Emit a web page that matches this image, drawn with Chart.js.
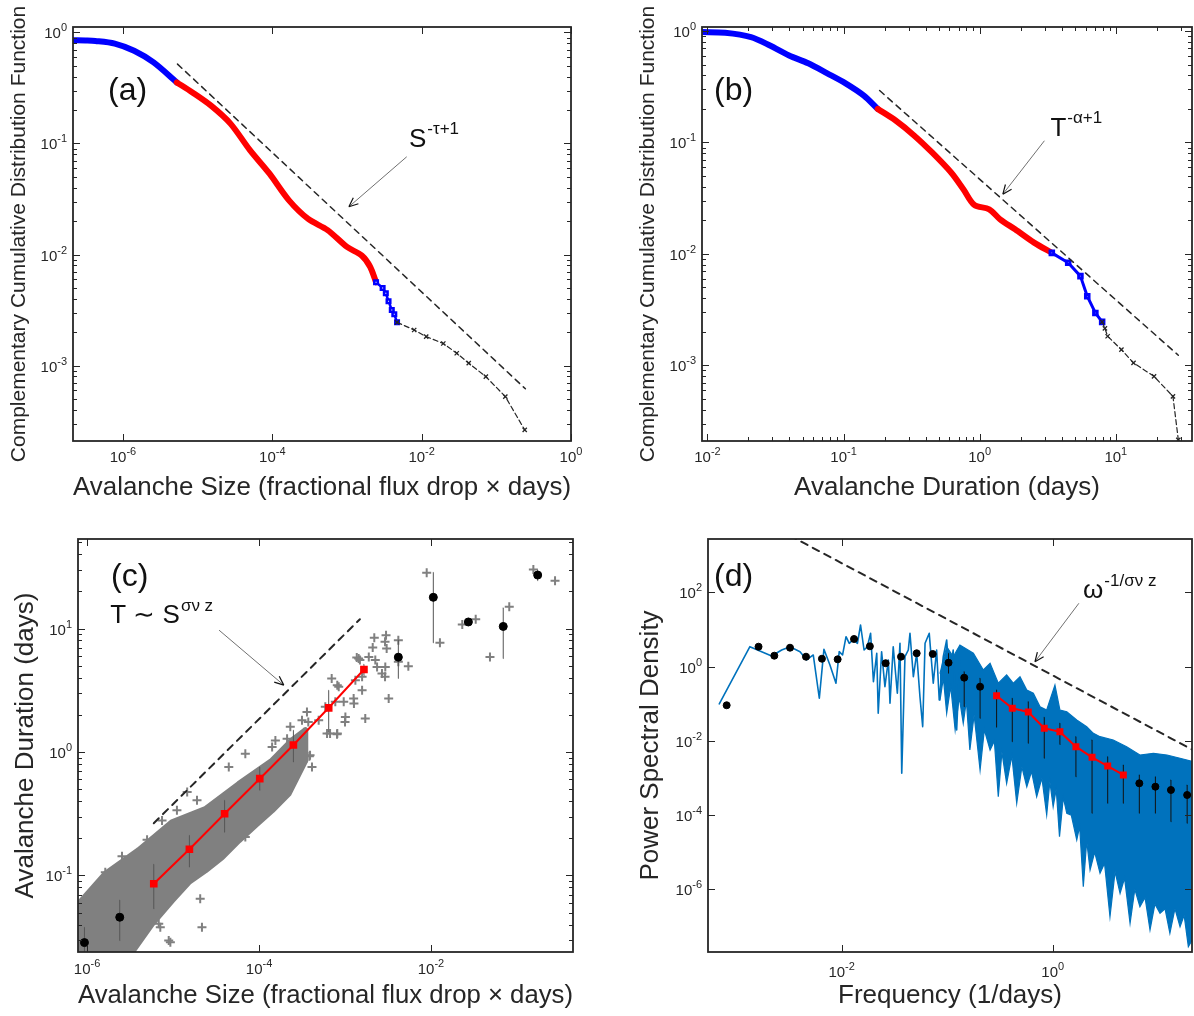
<!DOCTYPE html>
<html>
<head>
<meta charset="utf-8">
<script src="https://cdn.jsdelivr.net/npm/chart.js@4.4.1/dist/chart.umd.min.js"></script>
<style>
  html, body { margin: 0; padding: 0; background: #fff; }
  body { width: 1194px; height: 1016px; position: relative; overflow: hidden; }
  canvas { position: absolute; }
</style>
</head>
<body>
<canvas id="chartA" style="left:3px;top:0px;width:594px;height:507px" width="594" height="507"></canvas>
<canvas id="chartB" style="left:632px;top:0px;width:562px;height:507px" width="562" height="507"></canvas>
<canvas id="chartC" style="left:6px;top:510px;width:584px;height:505px" width="584" height="505"></canvas>
<canvas id="chartD" style="left:631px;top:510px;width:563px;height:505px" width="563" height="505"></canvas>
<script>
const FONT = '"Liberation Sans", Arial, Helvetica, sans-serif';
const INK = '#262626';

// (a) CCDF of avalanche size
const aBlue1X = [2.14e-7, 3.16e-7, 4.27e-7, 7.76e-7, 1.41e-6, 2.57e-6, 5.25e-6];
const aBlue1Y = [0.851, 0.847, 0.839, 0.794, 0.684, 0.537, 0.355];
const aRedX = [5.25e-6, 8.51e-6, 1.51e-5, 2.75e-5, 5.01e-5, 9.12e-5, 1.66e-4, 3.02e-4, 5.50e-4, 1.0e-3, 1.58e-3, 2.04e-3, 2.45e-3];
const aRedY = [0.355, 0.288, 0.219, 0.151, 0.0871, 0.0537, 0.0309, 0.0209, 0.0166, 0.0117, 0.00977, 0.00776, 0.00562];
const aBlue2X = [2.45e-3, 3.0e-3, 3.31e-3, 3.6e-3, 3.98e-3, 4.3e-3, 4.68e-3];
const aBlue2Y = [0.00562, 0.0050, 0.00447, 0.0038, 0.00316, 0.0029, 0.00245];
const aTailX = [4.68e-3, 7.94e-3, 0.0115, 0.0195, 0.0295, 0.0427, 0.0724, 0.132, 0.240];
const aTailY = [2.45e-3, 2.09e-3, 1.82e-3, 1.58e-3, 1.29e-3, 1.05e-3, 7.94e-4, 5.25e-4, 2.63e-4];
const aFitX = [5.37e-6, 0.245];
const aFitY = [0.519, 6.17e-4];
const aXTicks = [1e-6, 1e-4, 1e-2, 1];
const aYTicks = [1, 0.1, 0.01, 0.001];

// (b) CCDF of avalanche duration
const bBlue1X = [9.12e-3, 0.0135, 0.0209, 0.0288, 0.0398, 0.0550, 0.0759, 0.1035, 0.141, 0.178];
const bBlue1Y = [0.977, 0.966, 0.883, 0.741, 0.603, 0.513, 0.417, 0.339, 0.263, 0.200];
const bRedX = [0.178, 0.240, 0.331, 0.447, 0.617, 0.759, 0.912, 1.175, 1.413, 1.82, 2.51, 3.39];
const bRedY = [0.200, 0.158, 0.115, 0.0813, 0.0537, 0.0380, 0.0275, 0.0251, 0.0204, 0.0166, 0.0126, 0.0102];
const bBlue2X = [3.39, 4.47, 5.50, 6.17, 7.08, 7.94];
const bBlue2Y = [0.0102, 0.00832, 0.00631, 0.00417, 0.00295, 0.00245];
const bTailX = [7.94, 8.32, 8.71, 11.0, 13.5, 19.1, 26.3, 28.8];
const bTailY = [2.45e-3, 2.14e-3, 1.82e-3, 1.38e-3, 1.05e-3, 7.94e-4, 5.25e-4, 2.14e-4];
const bFitX = [0.184, 28.8];
const bFitY = [0.292, 1.23e-3];
const bXTicks = [0.01, 0.1, 1, 10];
const bYTicks = [1, 0.1, 0.01, 0.001];

// (c) duration vs size
const cBandUpX = [7.85e-7, 1.63e-6, 3.98e-6, 9.73e-6, 2.38e-5, 5.81e-5, 1.42e-4, 2.42e-4, 3.45e-4];
const cBandUpY = [0.058, 0.103, 0.160, 0.270, 0.345, 0.55, 0.85, 1.24, 1.50];
const cBandLoX = [7.85e-7, 3.33e-6, 5.70e-6, 9.73e-6, 1.52e-5, 2.38e-5, 3.72e-5, 5.81e-5, 9.06e-5, 1.42e-4, 2.21e-4, 3.45e-4];
const cBandLoY = [0.024, 0.024, 0.0406, 0.0627, 0.0883, 0.110, 0.141, 0.192, 0.255, 0.337, 0.460, 0.85];
const cCrossX = [2.55e-6, 4.99e-6, 1.46e-5, 1.90e-5, 1.11e-5, 4.76e-5, 2.07e-5, 2.17e-5, 8.91e-6, 7.11e-6,
  4.45e-5, 6.93e-5, 1.55e-4, 2.31e-4, 2.90e-4, 3.85e-4, 3.16e-4, 3.61e-4, 4.94e-4, 6.18e-4,
  8.07e-4, 7.71e-4, 8.45e-4, 9.66e-4, 1.32e-3, 1.58e-3, 1.72e-3, 1.44e-3, 1.89e-3, 2.36e-3,
  2.94e-3, 3.22e-3, 2.69e-3, 4.13e-4, 5.21e-6, 1.63e-6, 7.45e-6, 1.16e-5, 1.42e-4, 2.12e-4,
  5.90e-4, 1.01e-3, 1.26e-3, 1.58e-3, 2.25e-3, 2.19e-3, 3.00e-3, 2.92e-3, 3.05e-3, 2.10e-3,
  1.37e-3, 2.92e-3, 4.17e-3, 4.17e-3, 5.45e-3, 8.91e-3, 0.0127, 0.0231, 0.0331, 0.0485,
  0.0813, 0.155, 0.277, 7.0e-4, 8.13e-4, 1.27e-3, 1.0e-3, 8.13e-4, 6.70e-4, 3.74e-4,
  3.92e-4, 1.49e-3, 7.11e-6, 6.82e-6, 6.93e-5, 9.31e-6];
const cCrossY = [0.143, 0.195, 0.474, 0.406, 0.337, 0.192, 0.0647, 0.0381, 0.0297, 0.0381,
  0.755, 0.970, 1.24, 1.60, 0.970, 0.923, 1.81, 2.11, 1.81, 1.41,
  1.39, 2.55, 3.37, 2.55, 3.81, 3.16, 1.87, 5.72, 5.89, 4.89,
  4.89, 2.71, 4.32, 0.755, 0.155, 0.106, 0.279, 0.247, 1.10, 1.28,
  2.32, 1.92, 2.71, 4.06, 5.55, 8.41, 8.83, 7.80, 6.90, 7.03,
  5.83, 4.06, 8.05, 5.37, 4.95, 28.3, 7.66, 10.8, 11.9, 5.89,
  15.0, 30.1, 24.4, 3.94, 3.48, 2.47, 1.75, 1.41, 1.41, 1.75,
  0.94, 5.55, 0.205, 0.0406, 0.205, 0.0288];
const cRedX = [5.97e-6, 1.55e-5, 3.98e-5, 1.02e-4, 2.51e-4, 6.46e-4, 1.66e-3];
const cRedY = [0.0857, 0.163, 0.316, 0.608, 1.14, 2.28, 4.66];
const cDotX = [9.33e-7, 2.40e-6, 4.17e-3, 0.01064, 0.0272, 0.0692, 0.174];
const cDotY = [0.0286, 0.0459, 5.86, 17.9, 11.3, 10.4, 27.1];
const cErrX = [9.33e-7, 2.40e-6, 5.97e-6, 1.55e-5, 3.98e-5, 1.02e-4, 2.51e-4, 6.46e-4, 1.66e-3, 4.17e-3, 0.01064, 0.0272, 0.0692, 0.174];
const cErrLo = [0.024, 0.0297, 0.0537, 0.117, 0.224, 0.490, 0.830, 1.45, 4.17, 3.94, 7.66, 10.9, 5.71, 24.4];
const cErrHi = [0.038, 0.0631, 0.123, 0.211, 0.406, 0.755, 1.50, 3.16, 5.13, 8.05, 28.5, 12.1, 14.7, 29.8];
const cFitX = [5.97e-6, 1.49e-3];
const cFitY = [0.265, 11.9];
const cXTicks = [1e-6, 1e-4, 1e-2];
const cYTicks = [0.1, 1, 10];

// (d) power spectrum
const dLineX = [6.92e-4, 1.35e-3, 2.17e-3, 2.70e-3, 3.24e-3, 4.03e-3, 4.66e-3, 5.38e-3, 6.14e-3, 6.79e-3,
  7.74e-3, 8.83e-3, 9.48e-3, 0.0102, 0.0110, 0.0118, 0.0129, 0.0141, 0.0151, 0.0163,
  0.0175, 0.0188, 0.0200, 0.0215, 0.0222, 0.0239, 0.0257, 0.0277, 0.0287, 0.0308,
  0.0337, 0.0357, 0.0371, 0.0398, 0.0428, 0.0444, 0.0478, 0.0514, 0.0552, 0.0586,
  0.0617, 0.0676, 0.0738, 0.0794, 0.0841, 0.0918, 0.0989, 0.105, 0.114, 0.123, 0.132];
const dLineY = [0.0989, 3.46, 1.94, 2.82, 3.46, 2.54, 1.52, 2.07, 0.141, 2.94,
  1.11, 0.357, 2.54, 2.07, 6.44, 4.27, 5.47, 4.27, 13.3, 2.82,
  3.46, 7.94, 0.394, 2.30, 0.0555, 2.54, 0.289, 1.52, 0.103, 3.46,
  0.192, 4.27, 1.34e-3, 1.86, 2.82, 7.94, 0.537, 2.30, 0.155, 0.0242,
  4.27, 7.94, 0.357, 2.82, 0.126, 1.86, 5.25, 0.537, 2.82, 0.0197, 1.86];
const dBandUpX = [0.0855, 0.0989, 0.114, 0.132, 0.177, 0.220, 0.255, 0.305, 0.366, 0.424, 0.490, 0.568, 0.655, 0.759, 0.877,
  1.05, 1.17, 1.36, 1.69, 2.10, 2.43, 2.81, 3.75, 5.02, 6.71, 9.00, 12.1, 16.1, 21.5];
const dBandUpY = [0.664, 3.46, 1.86, 3.85, 2.30, 0.815, 1.24, 0.357, 0.597, 0.357, 0.537, 0.236, 0.192, 0.0836, 0.0681,
  0.321, 0.0681, 0.0612, 0.0366, 0.0242, 0.0160, 0.0130, 0.0106, 6.98e-3, 4.17e-3, 4.63e-3, 4.17e-3, 3.40e-3, 2.75e-3];
const dBandLoX = [0.0855, 0.092, 0.0989, 0.108, 0.119, 0.130, 0.142, 0.152, 0.164, 0.180,
  0.205, 0.225, 0.255, 0.280, 0.305, 0.330, 0.366, 0.410, 0.456, 0.510,
  0.568, 0.630, 0.705, 0.790, 0.877, 0.940, 1.01, 1.08, 1.16, 1.26,
  1.36, 1.50, 1.69, 1.80, 1.95, 2.10, 2.26, 2.50, 2.81, 3.10,
  3.49, 3.90, 4.35, 4.80, 5.41, 6.00, 6.71, 7.50, 8.36, 9.30,
  10.4, 11.6, 12.9, 14.4, 16.1, 17.6, 19.3, 21.8];
const dBandLoY = [0.126, 0.5, 0.0555, 0.3, 0.0197, 0.15, 0.0298, 0.12, 5.69e-3, 0.05,
  1.64e-3, 0.02, 5.69e-3, 0.01, 3.13e-4, 5e-3, 7.19e-4, 4e-3, 2.08e-4, 2e-3,
  5.83e-4, 1.5e-3, 3.13e-4, 1e-3, 1.01e-4, 8e-4, 1.68e-4, 5e-4, 2.62e-5, 3e-4,
  1.12e-4, 1e-4, 2.13e-5, 5e-5, 1.17e-6, 2e-5, 3.31e-6, 1e-5, 2.70e-6, 5e-6,
  1.82e-7, 3e-6, 7.80e-7, 2e-6, 1.21e-7, 1e-6, 3.40e-7, 6e-7, 8.0e-8, 4e-7,
  2.25e-7, 3e-7, 6.52e-8, 3e-7, 9.82e-8, 2e-7, 2.84e-8, 5.27e-8];
const dDotX = [8.13e-4, 1.63e-3, 2.30e-3, 3.24e-3, 4.59e-3, 6.50e-3, 9.16e-3, 0.0131, 0.0185, 0.0261,
  0.0365, 0.0514, 0.0729, 0.103, 0.145, 0.205, 6.62, 9.40, 13.2, 18.8];
const dDotY = [0.0912, 3.46, 1.98, 3.25, 1.86, 1.64, 1.58, 5.58, 3.55, 1.24,
  1.86, 2.30, 2.20, 1.28, 0.506, 0.289, 7.19e-4, 5.83e-4, 4.75e-4, 3.48e-4];
const dRedX = [0.294, 0.414, 0.587, 0.832, 1.17, 1.66, 2.36, 3.32, 4.67];
const dRedY = [0.165, 0.0757, 0.0601, 0.0219, 0.0177, 6.98e-3, 3.61e-3, 2.10e-3, 1.21e-3];
const dErrX = [0.103, 0.145, 0.205, 0.294, 0.414, 0.587, 0.832, 1.17, 1.66, 2.36, 3.32, 4.67, 6.62, 9.40, 13.2, 18.8];
const dErrLo = [0.664, 0.0836, 0.0406, 0.0233, 9.5e-3, 8.61e-3, 3.40e-3, 8.0e-3, 1.08e-3, 1.12e-4, 2.08e-4, 2.08e-4, 1.12e-4, 1.12e-4, 6.64e-5, 6.01e-5];
const dErrHi = [2.30, 0.733, 0.486, 0.236, 0.141, 0.114, 0.0433, 0.0300, 0.0130, 0.0106, 3.75e-3, 2.24e-3, 1.21e-3, 1.08e-3, 8.83e-4, 6.47e-4];
const dFitX = [2.51e-3, 21.8];
const dFitY = [5000, 5.5e-3];
const dXTicks = [1e-2, 1];
const dYTicks = [1e2, 1, 1e-2, 1e-4, 1e-6];

const pts = (xs, ys) => xs.map((x, i) => ({ x, y: ys[i] }));
const bars = (xs, lo, hi) => xs.flatMap((x, i) => [{ x, y: lo[i] }, { x, y: hi[i] }, { x, y: null }]);
const polygon = (ux, uy, lx, ly) => pts(ux, uy).concat(pts(lx, ly).reverse());

function curve(data, color, width, more) {
  return Object.assign({
    data, borderColor: color, backgroundColor: color, borderWidth: width,
    pointRadius: 0, fill: false, tension: 0, spanGaps: false,
    borderJoinStyle: 'round', borderCapStyle: 'round'
  }, more || {});
}

// drawing details of each panel, looked up by canvas id
const DECOR = {
  chartA: {
    xMinor: false, yMinor: true, xTicks: aXTicks, yTicks: aYTicks, xLabelGap: 21, letter: '(a)', letterAt: [35, 73],
    note: { x: 6.76e-3, y: 0.0933, text: 'S', sup: '-\u03C4+1', size: 26, supSize: 17, rise: 13,
      from: [6.31e-3, 0.0759], to: [1.06e-3, 0.0269] }
  },
  chartB: {
    xMinor: true, yMinor: true, xTicks: bXTicks, yTicks: bYTicks, xLabelGap: 21, letter: '(b)', letterAt: [12, 73],
    note: { x: 3.31, y: 0.115, text: 'T', sup: '-\u03B1+1', size: 26, supSize: 17, rise: 13,
      from: [2.99, 0.1035], to: [1.48, 0.0343] }
  },
  chartC: {
    xMinor: false, yMinor: true, xTicks: cXTicks, yTicks: cYTicks, xLabelGap: 22, letter: '(c)', letterAt: [33, 47],
    note: { x: 1.86e-6, y: 11.07, text: 'T \u223C S', sup: '\u03C3\u03BD z', size: 26, supSize: 17, rise: 12,
      from: [3.43e-5, 9.70], to: [1.94e-4, 3.48] }
  },
  chartD: {
    xMinor: false, yMinor: false, xTicks: dXTicks, yTicks: dYTicks, xLabelGap: 25, letter: '(d)', letterAt: [6, 47],
    note: { x: 1.94, y: 70.8, text: '\u03C9', sup: '-1/\u03C3\u03BD z', size: 26, supSize: 17, rise: 12,
      from: [1.77, 51.2], to: [0.679, 1.36] }
  }
};

// decade ticks with optional 2..9 minor ticks inside [min, max]
function logTicks(min, max) {
  const out = [];
  for (let d = Math.floor(Math.log10(min)); d <= Math.ceil(Math.log10(max)); d++) {
    for (let k = 1; k <= 9; k++) {
      const v = k * Math.pow(10, d);
      if (v >= min * 0.999 && v <= max * 1.001) out.push({ v, major: k === 1 });
    }
  }
  return out;
}

function drawPow(ctx, v, x, y, align) {
  const sup = String(Math.round(Math.log10(v)));
  ctx.font = `15px ${FONT}`;
  const wb = ctx.measureText('10').width;
  ctx.font = `11px ${FONT}`;
  const ws = ctx.measureText(sup).width;
  const left = align === 'right' ? x - wb - ws : x - (wb + ws) / 2;
  ctx.font = `15px ${FONT}`;
  ctx.fillText('10', left, y);
  ctx.font = `11px ${FONT}`;
  ctx.fillText(sup, left + wb, y - 7);
}

function drawNote(ctx, chart, n) {
  const { x, y } = chart.scales;
  const px = x.getPixelForValue(n.x), py = y.getPixelForValue(n.y);
  ctx.fillStyle = '#111';
  ctx.font = `${n.size}px ${FONT}`;
  ctx.fillText(n.text, px, py);
  const w = ctx.measureText(n.text).width;
  ctx.font = `${n.supSize}px ${FONT}`;
  ctx.fillText(n.sup, px + w + 1, py - n.rise);

  const x1 = x.getPixelForValue(n.from[0]), y1 = y.getPixelForValue(n.from[1]);
  const x2 = x.getPixelForValue(n.to[0]), y2 = y.getPixelForValue(n.to[1]);
  ctx.strokeStyle = '#707070';
  ctx.lineWidth = 1;
  ctx.beginPath();
  ctx.moveTo(x1, y1);
  ctx.lineTo(x2, y2);
  ctx.stroke();
  const ang = Math.atan2(y2 - y1, x2 - x1);
  ctx.strokeStyle = '#111';
  ctx.lineWidth = 1.2;
  ctx.beginPath();
  for (const s of [-1, 1]) {
    ctx.moveTo(x2, y2);
    ctx.lineTo(x2 - 10 * Math.cos(ang + s * 0.4), y2 - 10 * Math.sin(ang + s * 0.4));
  }
  ctx.stroke();
}

const framePlugin = {
  id: 'frame',
  afterDatasetsDraw(chart) {
    const o = DECOR[chart.canvas.id];
    const { ctx, chartArea: a, scales: { x, y } } = chart;
    ctx.save();
    ctx.strokeStyle = INK;
    ctx.lineWidth = 1;
    ctx.beginPath();
    const xt = o.xMinor ? logTicks(x.min, x.max) : o.xTicks.map(v => ({ v, major: true }));
    const yt = o.yMinor ? logTicks(y.min, y.max) : o.yTicks.map(v => ({ v, major: true }));
    xt.forEach(t => {
      const p = Math.round(x.getPixelForValue(t.v)) + 0.5, len = t.major ? 7 : 4;
      ctx.moveTo(p, a.bottom); ctx.lineTo(p, a.bottom - len);
      ctx.moveTo(p, a.top); ctx.lineTo(p, a.top + len);
    });
    yt.forEach(t => {
      const p = Math.round(y.getPixelForValue(t.v)) + 0.5, len = t.major ? 7 : 4;
      ctx.moveTo(a.left, p); ctx.lineTo(a.left + len, p);
      ctx.moveTo(a.right, p); ctx.lineTo(a.right - len, p);
    });
    ctx.stroke();
    ctx.lineWidth = 1.8;
    ctx.strokeRect(a.left, a.top, a.right - a.left, a.bottom - a.top);

    ctx.fillStyle = INK;
    ctx.textBaseline = 'alphabetic';
    ctx.textAlign = 'left';
    o.xTicks.forEach(v => drawPow(ctx, v, x.getPixelForValue(v), a.bottom + o.xLabelGap, 'center'));
    o.yTicks.forEach(v => drawPow(ctx, v, a.left - 6, y.getPixelForValue(v) + 6, 'right'));

    ctx.fillStyle = '#111';
    ctx.font = `32px ${FONT}`;
    ctx.fillText(o.letter, a.left + o.letterAt[0], a.top + o.letterAt[1]);
    drawNote(ctx, chart, o.note);
    ctx.restore();
  }
};

function makeChart(id, p) {
  return new Chart(document.getElementById(id), {
    type: 'line',
    data: { datasets: p.datasets },
    options: {
      responsive: false,
      animation: false,
      devicePixelRatio: 1,
      layout: { autoPadding: false, padding: { top: p.padTop, right: p.padRight, left: 0, bottom: 0 } },
      plugins: { legend: { display: false }, tooltip: { enabled: false } },
      scales: {
        x: {
          type: 'logarithmic', min: p.xRange[0], max: p.xRange[1],
          ticks: { display: false }, grid: { display: false }, border: { display: false },
          title: { display: true, text: p.xTitle, color: INK, font: { family: FONT, size: 26 }, padding: { top: 0, bottom: 4 } },
          afterFit: s => { s.height = p.xAxisH; }
        },
        y: {
          type: 'logarithmic', min: p.yRange[0], max: p.yRange[1],
          ticks: { display: false }, grid: { display: false }, border: { display: false },
          title: { display: true, text: p.yTitle, color: INK, font: { family: FONT, size: p.yTitleSize }, padding: { top: 4, bottom: 0 } },
          afterFit: s => { s.width = p.yAxisW; }
        }
      }
    },
    plugins: [framePlugin]
  });
}

const BLUE = '#0000ff', RED = '#ff0000', GREY = '#808080', MBLUE = '#0072bd';

makeChart('chartA', {
  xRange: [2.14e-7, 1], yRange: [2.09e-4, 1.12],
  padTop: 27, padRight: 26, yAxisW: 70, xAxisH: 66,
  xTitle: 'Avalanche Size (fractional flux drop \u00D7 days)',
  yTitle: 'Complementary Cumulative Distribution Function', yTitleSize: 21,
  datasets: [
    curve(pts(aFitX, aFitY), INK, 1.5, { borderDash: [6, 5], order: 0 }),
    curve(pts(aTailX, aTailY), INK, 1.2, { borderDash: [5, 3], pointStyle: 'crossRot', pointRadius: 3, pointBorderWidth: 1.3, order: 1 }),
    curve(pts(aBlue2X, aBlue2Y), BLUE, 2.5, { pointStyle: 'rect', pointRadius: 2.5, pointBackgroundColor: '#fff', order: 2 }),
    curve(pts(aRedX, aRedY), RED, 6, { tension: 0.3, order: 3 }),
    curve(pts(aBlue1X, aBlue1Y), BLUE, 6, { tension: 0.3, order: 4 })
  ]
});

makeChart('chartB', {
  xRange: [9.12e-3, 36.3], yRange: [2.09e-4, 1.086],
  padTop: 27, padRight: 2, yAxisW: 70, xAxisH: 66,
  xTitle: 'Avalanche Duration (days)',
  yTitle: 'Complementary Cumulative Distribution Function', yTitleSize: 21,
  datasets: [
    curve(pts(bFitX, bFitY), INK, 1.5, { borderDash: [6, 5], order: 0 }),
    curve(pts(bTailX, bTailY), INK, 1.2, { borderDash: [5, 3], pointStyle: 'crossRot', pointRadius: 3, pointBorderWidth: 1.3, order: 1 }),
    curve(pts(bBlue2X, bBlue2Y), BLUE, 3, { pointStyle: 'rect', pointRadius: 2.5, pointBackgroundColor: '#fff', order: 2 }),
    curve(pts(bRedX, bRedY), RED, 6, { tension: 0.3, order: 3 }),
    curve(pts(bBlue1X, bBlue1Y), BLUE, 6, { tension: 0.3, order: 4 })
  ]
});

makeChart('chartC', {
  xRange: [7.85e-7, 0.448], yRange: [0.024, 53.1],
  padTop: 29, padRight: 17, yAxisW: 72, xAxisH: 63,
  xTitle: 'Avalanche Size (fractional flux drop \u00D7 days)',
  yTitle: 'Avalanche Duration (days)', yTitleSize: 26,
  datasets: [
    curve(polygon(cBandUpX, cBandUpY, cBandLoX, cBandLoY), GREY, 6, { fill: 'shape', backgroundColor: GREY, order: 9 }),
    { data: pts(cCrossX, cCrossY), showLine: false, pointStyle: 'cross', pointRadius: 4.5, pointBorderWidth: 2,
      borderColor: GREY, backgroundColor: GREY, order: 8 },
    curve(bars(cErrX, cErrLo, cErrHi), '#555555', 1, { order: 7 }),
    curve(pts(cFitX, cFitY), INK, 2, { borderDash: [7, 6], order: 0 }),
    curve(pts(cRedX, cRedY), RED, 2, { pointStyle: 'rect', pointRadius: 4, order: 2 }),
    { data: pts(cDotX, cDotY), showLine: false, pointStyle: 'circle', pointRadius: 4,
      borderColor: '#000', backgroundColor: '#000', order: 1 }
  ]
});

makeChart('chartD', {
  xRange: [5.41e-4, 20.9], yRange: [2.04e-8, 2767],
  padTop: 29, padRight: 2, yAxisW: 77, xAxisH: 63,
  xTitle: 'Frequency (1/days)',
  yTitle: 'Power Spectral Density', yTitleSize: 26,
  datasets: [
    curve(polygon(dBandUpX, dBandUpY, dBandLoX, dBandLoY), MBLUE, 1.2, { fill: 'shape', backgroundColor: MBLUE, borderJoinStyle: 'miter', order: 9 }),
    curve(pts(dLineX, dLineY), MBLUE, 1.6, { order: 8 }),
    curve(bars(dErrX, dErrLo, dErrHi), '#111111', 1, { order: 7 }),
    curve(pts(dFitX, dFitY), INK, 2, { borderDash: [7, 6], order: 0 }),
    curve(pts(dRedX, dRedY), RED, 2, { pointStyle: 'rect', pointRadius: 3.5, order: 2 }),
    { data: pts(dDotX, dDotY), showLine: false, pointStyle: 'circle', pointRadius: 3.5,
      borderColor: '#000', backgroundColor: '#000', order: 1 }
  ]
});
</script>
</body>
</html>
